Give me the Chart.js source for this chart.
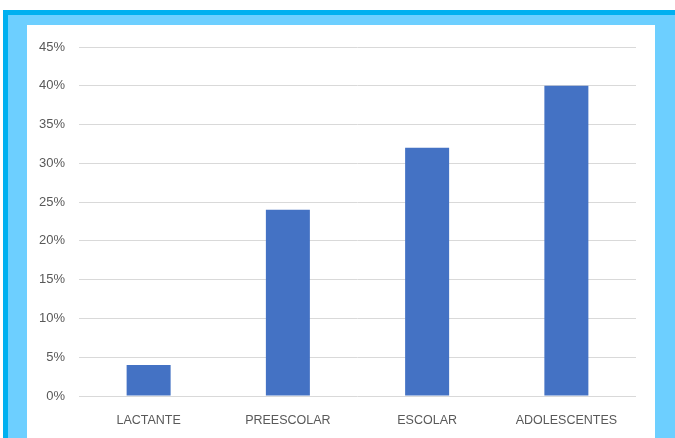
<!DOCTYPE html>
<html>
<head>
<meta charset="utf-8">
<script src="https://cdn.jsdelivr.net/npm/chart.js@4"></script>
<style>
  html, body { margin: 0; padding: 0; background: #fff; }
  body { width: 675px; height: 438px; position: relative; overflow: hidden; }
  #frameDark { position: absolute; left: 3px; top: 10px; width: 672px; height: 428px; background: #00B0F0; }
  #frameLight { position: absolute; left: 8px; top: 15px; width: 667px; height: 423px; background: #6DCFFF; }
  #box { position: absolute; left: 27px; top: 25px; width: 628px; height: 413px; background: #fff; }
</style>
</head>
<body>
<div id="frameDark"></div>
<div id="frameLight"></div>
<div id="box"><canvas id="grupos" width="628" height="413"></canvas></div>
<script>
const categorias = ['LACTANTE', 'PREESCOLAR', 'ESCOLAR', 'ADOLESCENTES'];
const porcentajes = [4, 24, 32, 40];
const ticksY = [0, 5, 10, 15, 20, 25, 30, 35, 40, 45];

const ctx = document.getElementById('grupos').getContext('2d');

new Chart(ctx, {
    type: 'bar',
    data: {
        labels: categorias,
        datasets: [{
            data: porcentajes,
            backgroundColor: '#4472C4',
            borderWidth: 0,
            categoryPercentage: 1,
            barPercentage: 0.316
        }]
    },
    options: {
        responsive: false,
        animation: false,
        layout: { padding: { top: 22, right: 19, left: 0, bottom: 0 } },
        plugins: {
            legend: { display: false },
            tooltip: { enabled: false }
        },
        scales: {
            x: {
                grid: { display: false },
                border: { display: false },
                ticks: {
                    color: '#595959',
                    font: { family: 'Liberation Sans', size: 12.5 },
                    padding: 9
                },
                afterFit: (scale) => { scale.height = 42; }
            },
            y: {
                min: 0,
                max: 45,
                afterBuildTicks: (scale) => { scale.ticks = ticksY.map(v => ({ value: v })); },
                grid: { color: '#D9D9D9', lineWidth: 1, drawTicks: false },
                border: { display: false },
                ticks: {
                    color: '#595959',
                    font: { family: 'Liberation Sans', size: 13 },
                    padding: 14,
                    callback: (v) => v + '%'
                },
                afterFit: (scale) => { scale.width = 52; }
            }
        }
    }
});
</script>
</body>
</html>
